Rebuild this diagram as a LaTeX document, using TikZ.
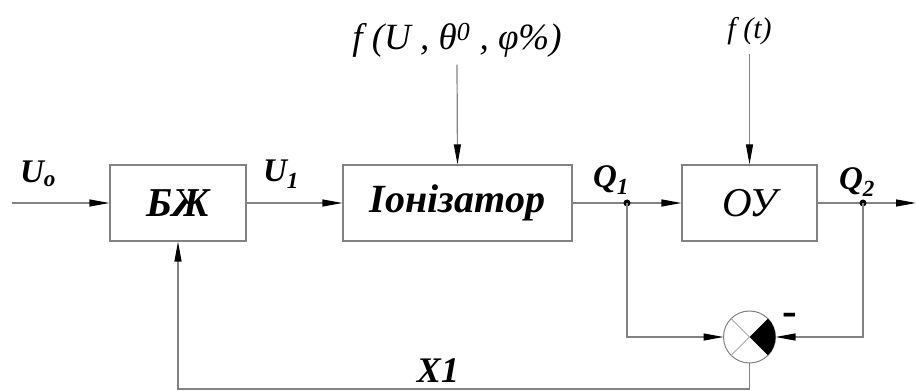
\documentclass[tikz,border=0pt]{standalone}
\usepackage{fontspec}
\setmainfont{Liberation Serif}
\usetikzlibrary{arrows.meta,positioning,calc}
\definecolor{linegray}{RGB}{130,130,130}
\begin{document}
\begin{tikzpicture}[x=1pt,y=1pt,
      blk/.style={draw=linegray,line width=1.2pt,minimum height=76pt,inner sep=0pt},
      ln/.style={draw=linegray,line width=1.2pt},
      ar/.style={ln,-{Triangle[length=20pt,width=7pt,color=black]}},
      lbl/.style={font=\fontsize{33}{34}\selectfont\bfseries\itshape}]
      \useasboundingbox (0,0) rectangle (916,391);
      \node[blk,minimum width=136pt,font=\fontsize{41}{42}\selectfont\bfseries\itshape] (bzh) at (178,188) {БЖ};
      \node[blk,minimum width=229pt,font=\fontsize{40}{42}\selectfont\bfseries\itshape] (ion) at (457.5,188) {Іонізатор};
      \node[blk,minimum width=135pt,font=\fontsize{41}{42}\selectfont\itshape] (ou) at (749.5,188) {ОУ};
      \node[circle,draw=linegray,line width=1pt,minimum size=52pt,inner sep=0pt,outer sep=0pt] (cmp) at (749.5,54) {};
      \fill (cmp.center) -- (cmp.45) arc[start angle=45,end angle=-45,radius=26pt] -- cycle;
      \draw[linegray!70,line width=1pt] (cmp.135) -- (cmp.center) -- (cmp.-135);
      % inputs from above
      \node[font=\fontsize{37}{38}\selectfont\itshape] (fU) at (457,351) {f (U , θ\textsuperscript{0} , φ\%)};
      \node[font=\fontsize{30}{32}\selectfont\itshape] (ft) at (749.5,360) {f (t)};
      \draw[ar] (fU.south) ++(0,-4) -- (ion.north);
      \draw[ar] (ft.south) ++(0,-6) -- (ou.north);
      % main line
      \coordinate (in) at (12,188);
      \coordinate (q1) at (627,188);
      \coordinate (q2) at (863,188);
      \coordinate (out) at (916,188);
      \draw[ar] (in) -- (bzh.west);
      \draw[ar] (bzh.east) -- (ion.west);
      \draw[ln] (ion.east) -- (q1);
      \draw[ar] (q1) -- (ou.west);
      \draw[ln] (ou.east) -- (q2);
      \draw[ar] (q2) -- (out);
      \fill (q1) circle (3.5pt) (q2) circle (3.5pt);
      % feedback
      \draw[ar] (q1) |- (cmp.west);
      \draw[ar] (q2) |- (cmp.east);
      \coordinate (bot) at (749.5,2);
      \draw[ar] (cmp.south) -- (bot) -| (bzh.south);
      \node[lbl] (u0) at (38,217) {U\textsubscript{o}};
      \node[lbl] (u1) at (281,217) {U\textsubscript{1}};
      \node[lbl] (lq1) at (611,211) {Q\textsubscript{1}};
      \node[lbl] (lq2) at (857,209) {Q\textsubscript{2}};
      \node[font=\fontsize{36}{38}\selectfont\bfseries\itshape] (x1) at (438,20) {X1};
      \node[font=\fontsize{44}{44}\selectfont\bfseries] (minus) at (790,72) {-};
    \end{tikzpicture}
\end{document}
